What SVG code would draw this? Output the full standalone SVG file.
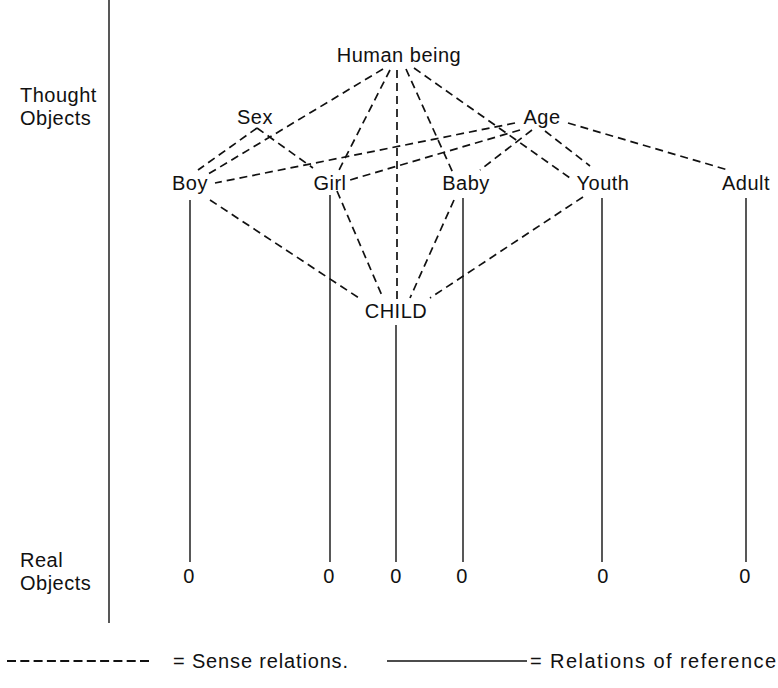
<svg xmlns="http://www.w3.org/2000/svg" width="778" height="688" viewBox="0 0 778 688">
<style>
text{font-family:"Liberation Sans",Arial,sans-serif;font-size:20px;fill:#111;letter-spacing:0.5px}
.n{text-anchor:middle}
.d{stroke:#111;stroke-width:1.7;stroke-dasharray:8 5;fill:none}
.s{stroke:#111;stroke-width:1.4;fill:none}
</style>
<rect width="778" height="688" fill="#fff"/>
<g id="axis">
<line class="s" x1="109" y1="0" x2="109" y2="623"/>
<text x="20" y="102">Thought</text>
<text x="20" y="125">Objects</text>
<text x="20" y="567">Real</text>
<text x="20" y="590">Objects</text>
</g>
<g id="connectors">
<line class="d" x1="383" y1="69" x2="205" y2="176"/>
<line class="d" x1="390" y1="70" x2="337" y2="174"/>
<line class="d" x1="397" y1="70" x2="397" y2="304"/>
<line class="d" x1="406" y1="69" x2="453" y2="173"/>
<line class="d" x1="414" y1="68" x2="570" y2="178"/>
<line class="d" x1="257" y1="128" x2="198" y2="170"/>
<line class="d" x1="257" y1="128" x2="313" y2="168"/>
<line class="d" x1="515" y1="123" x2="215" y2="183"/>
<line class="d" x1="520" y1="130" x2="350" y2="180"/>
<line class="d" x1="532" y1="130" x2="480" y2="170"/>
<line class="d" x1="545" y1="131" x2="590" y2="166"/>
<line class="d" x1="568" y1="123" x2="728" y2="170"/>
<line class="d" x1="210" y1="200" x2="362" y2="300"/>
<line class="d" x1="337" y1="191" x2="383" y2="298"/>
<line class="d" x1="454" y1="200" x2="410" y2="298"/>
<line class="d" x1="583" y1="197" x2="430" y2="298"/>
<line class="s" x1="190" y1="200" x2="190" y2="562"/>
<line class="s" x1="330" y1="195" x2="330" y2="562"/>
<line class="s" x1="396" y1="325" x2="396" y2="562" stroke-width="2"/>
<line class="s" x1="463" y1="198" x2="463" y2="562"/>
<line class="s" x1="602" y1="198" x2="602" y2="562"/>
<line class="s" x1="746" y1="198" x2="746" y2="562"/>
</g>
<g id="human-being"><text class="n" x="399" y="62">Human being</text></g>
<g id="sex"><text class="n" x="255" y="124">Sex</text></g>
<g id="age"><text class="n" x="542" y="124">Age</text></g>
<g id="boy"><text class="n" x="190" y="190">Boy</text></g>
<g id="girl"><text class="n" x="330" y="190">Girl</text></g>
<g id="baby"><text class="n" x="466" y="190">Baby</text></g>
<g id="youth"><text class="n" x="603" y="190">Youth</text></g>
<g id="adult"><text class="n" x="746" y="190">Adult</text></g>
<g id="child"><text class="n" x="396" y="318">CHILD</text></g>
<g id="real-boy"><text class="n" x="189" y="583">0</text></g>
<g id="real-girl"><text class="n" x="329" y="583">0</text></g>
<g id="real-child"><text class="n" x="396" y="583">0</text></g>
<g id="real-baby"><text class="n" x="462" y="583">0</text></g>
<g id="real-youth"><text class="n" x="603" y="583">0</text></g>
<g id="real-adult"><text class="n" x="745" y="583">0</text></g>
<g id="legend">
<line x1="7" y1="661" x2="153" y2="661" stroke="#111" stroke-width="2.2" stroke-dasharray="9 4.3"/>
<text x="173" y="668" textLength="175" lengthAdjust="spacing" style="letter-spacing:0">= Sense relations.</text>
<line class="s" x1="387" y1="661" x2="527" y2="661"/>
<text x="530" y="668" textLength="246" lengthAdjust="spacing" style="letter-spacing:0">= Relations of reference</text>
</g>
</svg>
